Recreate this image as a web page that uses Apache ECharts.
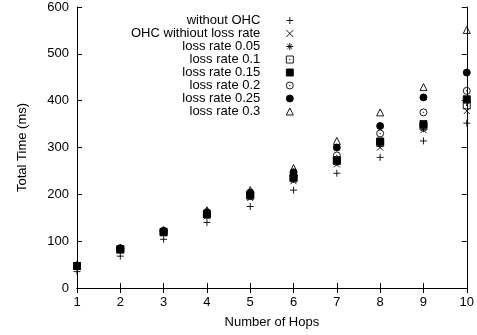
<!DOCTYPE html>
<html><head><meta charset="utf-8">
<script src="https://cdn.jsdelivr.net/npm/echarts@6/dist/echarts.min.js"></script>
<style>html,body{margin:0;padding:0;background:#fff}#c{width:477px;height:335px}</style>
</head><body><div id="c"></div>
<script>
const hops = [1, 2, 3, 4, 5, 6, 7, 8, 9, 10];
const seriesNames = ['without OHC', 'OHC withiout loss rate', 'loss rate 0.05', 'loss rate 0.1', 'loss rate 0.15', 'loss rate 0.2', 'loss rate 0.25', 'loss rate 0.3'];
const withoutOHC = [35, 68, 104, 140, 174, 209, 245, 279, 314, 352];
const ohcNoLoss = [45, 80, 117, 153, 192, 228, 264, 300, 337, 378];
const loss005 = [46, 81, 118, 155, 195, 232, 268, 306, 340, 398];
const loss010 = [47, 82, 119, 157, 197, 234, 271, 310, 345, 390];
const loss015 = [47, 83, 120, 158, 199, 236, 273, 313, 350, 403];
const loss020 = [48, 84, 121, 160, 201, 240, 283, 330, 375, 421];
const loss025 = [48, 85, 122, 162, 204, 247, 300, 346, 407, 460];
const loss030 = [49, 86, 124, 166, 209, 256, 314, 375, 429, 551];
const yTicks = [0, 100, 200, 300, 400, 500, 600];

const allVals = [withoutOHC, ohcNoLoss, loss005, loss010, loss015, loss020, loss025, loss030];
const FONT = 'Liberation Sans, Arial, sans-serif';
const symbols = [
  {symbol: 'path://M0,5L10,5M5,0L5,10', size: 7, fill: 'rgba(0,0,0,0)'},
  {symbol: 'path://M0,0L10,10M10,0L0,10', size: 6, fill: 'rgba(0,0,0,0)'},
  {symbol: 'path://M0,5L10,5M5,0L5,10M1.5,1.5L8.5,8.5M8.5,1.5L1.5,8.5', size: 7, fill: 'rgba(0,0,0,0)'},
  {symbol: 'path://M0,0L10,0L10,10L0,10ZM4.6,4.6L5.4,4.6L5.4,5.4L4.6,5.4Z', size: 7, fill: 'rgba(0,0,0,0)'},
  {symbol: 'rect', size: 7, fill: '#000'},
  {symbol: 'path://M5,0A5,5,0,1,1,4.99,0ZM5,4.6A0.4,0.4,0,1,1,4.99,4.6Z', size: 7, fill: 'rgba(0,0,0,0)'},
  {symbol: 'circle', size: 7, fill: '#000'},
  {symbol: 'triangle', size: 7, fill: 'rgba(0,0,0,0)'}
];

const series = seriesNames.map((name, k) => ({
  name: name,
  type: 'scatter',
  xAxisIndex: 0, yAxisIndex: 0,
  symbol: symbols[k].symbol,
  symbolSize: symbols[k].size,
  itemStyle: {color: symbols[k].fill, borderColor: '#000', borderWidth: 0.9, opacity: 1},
  emphasis: {disabled: true},
  animation: false,
  data: hops.map((x, i) => [x, allVals[k][i]])
}));

const axisCommon = {
  type: 'value',
  axisLine: {show: true, lineStyle: {color: '#000', width: 1}},
  axisTick: {show: true, inside: true, length: 5, lineStyle: {color: '#000'}},
  splitLine: {show: false},
  axisLabel: {color: '#000', fontFamily: FONT, fontSize: 13, margin: 8}
};

const chart = echarts.init(document.getElementById('c'), null, {renderer: 'canvas'});
chart.setOption({
  animation: false,
  backgroundColor: '#fff',
  grid: {left: 77, right: 9, top: 7, bottom: 47, containLabel: false},
  xAxis: [
    Object.assign({}, axisCommon, {position: 'bottom', min: 1, max: 10, interval: 1,
      name: 'Number of Hops', nameLocation: 'middle', nameGap: 28,
      nameTextStyle: {color: '#000', fontFamily: FONT, fontSize: 13}}),
    Object.assign({}, axisCommon, {position: 'top', min: 1, max: 10, interval: 1,
      axisLabel: {show: false}})
  ],
  yAxis: [
    Object.assign({}, axisCommon, {position: 'left', min: 0, max: 600, interval: 100,
      axisLabel: Object.assign({}, axisCommon.axisLabel, {formatter: v => yTicks.includes(v) ? String(v) : ''}),
      name: 'Total Time (ms)', nameLocation: 'middle', nameGap: 48, nameRotate: 90,
      nameTextStyle: {color: '#000', fontFamily: FONT, fontSize: 13}}),
    Object.assign({}, axisCommon, {position: 'right', min: 0, max: 600, interval: 100,
      axisLabel: {show: false}})
  ],
  legend: {
    orient: 'vertical',
    align: 'right',
    left: 131,
    top: 14,
    itemWidth: 7,
    itemHeight: 7,
    itemGap: 0,
    padding: 0,
    selectedMode: false,
    itemStyle: {borderWidth: 0.9},
    textStyle: {color: '#000', fontFamily: FONT, fontSize: 13, padding: [0, 21, 0, 0]},
    data: seriesNames
  },
  series: series
});
</script></body></html>
